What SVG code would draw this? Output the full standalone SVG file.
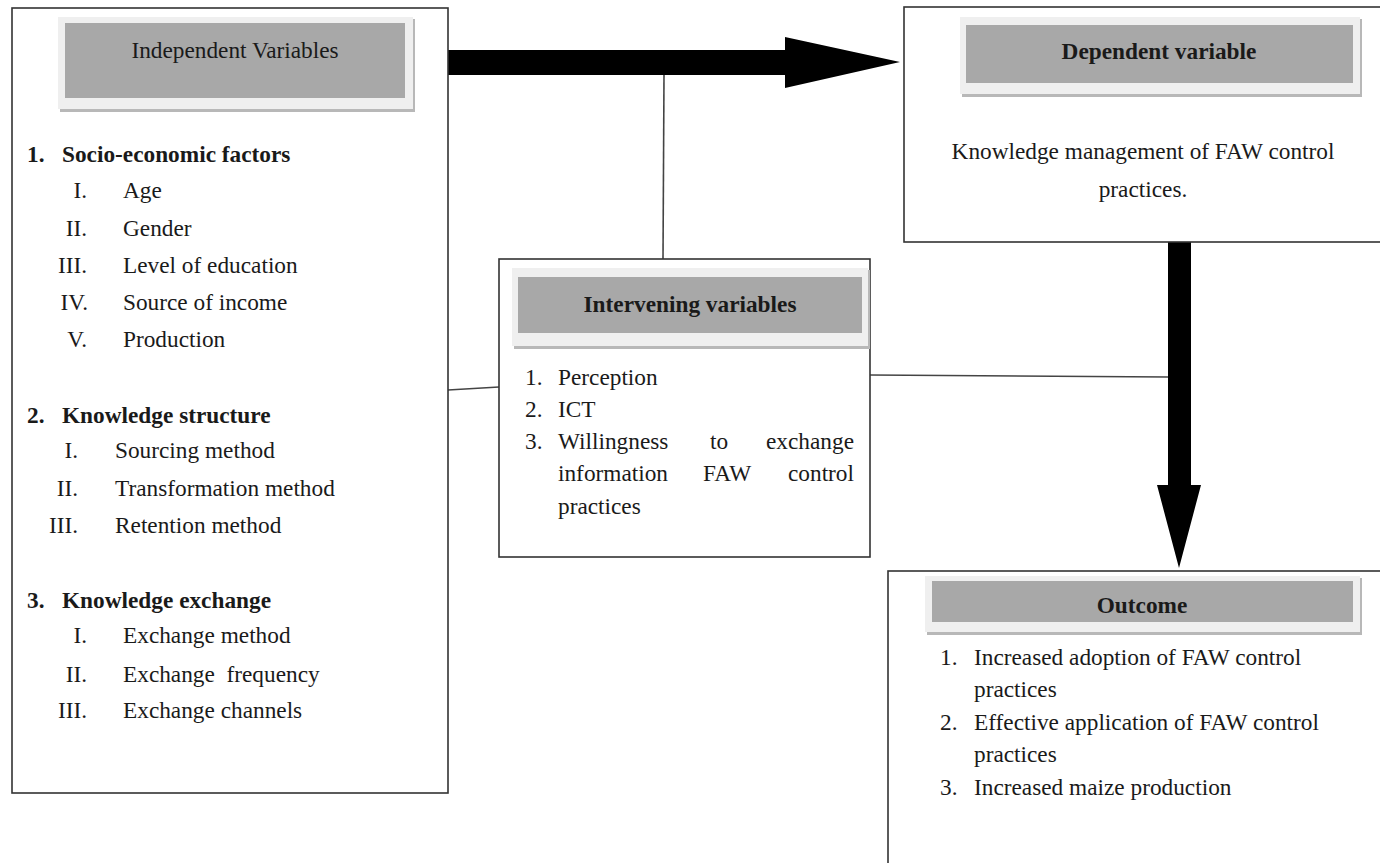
<svg xmlns="http://www.w3.org/2000/svg" width="1380" height="863" viewBox="0 0 1380 863" font-family="'Liberation Serif', Tinos, 'Times New Roman', 'DejaVu Serif', serif">
<style>
  .box { fill: #ffffff; stroke: #333333; stroke-width: 1.6; }
  .panel { fill: #efefef; stroke: none; }
  .shadow { fill: #b8b8b8; stroke: none; }
  .head { fill: #a8a8a8; stroke: none; }
  text { font-family: 'Liberation Serif', Tinos, 'Times New Roman', 'DejaVu Serif', serif; font-size: 23.3px; fill: #1a1a1a; }
  .b { font-weight: bold; }
  .c { text-anchor: middle; }
  .r { text-anchor: end; }
  .ln { stroke: #444444; stroke-width: 1.6; fill: none; }
  .arrow { fill: #000000; stroke: none; }
</style>
<rect width="1380" height="863" fill="#ffffff"/>

<g id="connectors">
  <line class="ln" x1="448" y1="390" x2="499" y2="387"/>
  <line class="ln" x1="870" y1="375" x2="1168" y2="377"/>
  <line class="ln" x1="664" y1="75" x2="663" y2="259"/>
  <polygon class="arrow" points="447,50 785,50 785,37 900,62 785,88 785,75 447,75"/>
  <polygon class="arrow" points="1168,241 1191,241 1191,485 1201,485 1179,568 1157,485 1168,485"/>
</g>

<g id="independent">
  <rect class="box" x="12" y="8" width="436" height="785"/>
  <rect class="shadow" x="60" y="19" width="355" height="93"/>
  <rect class="panel" x="58" y="17" width="355" height="92"/>
  <rect class="head" x="65" y="23" width="340" height="75"/>
  <text class="c" x="235" y="58">Independent Variables</text>
  <text class="b" x="27" y="162">1.</text>
  <text class="b" x="62" y="162">Socio-economic factors</text>
  <text class="r" x="87" y="198">I.</text><text x="123" y="198">Age</text>
  <text class="r" x="87" y="236">II.</text><text x="123" y="236">Gender</text>
  <text class="r" x="87" y="273">III.</text><text x="123" y="273">Level of education</text>
  <text class="r" x="88" y="310">IV.</text><text x="123" y="310">Source of income</text>
  <text class="r" x="87" y="347">V.</text><text x="123" y="347">Production</text>
  <text class="b" x="27" y="423">2.</text>
  <text class="b" x="62" y="423">Knowledge structure</text>
  <text class="r" x="78" y="458">I.</text><text x="115" y="458">Sourcing method</text>
  <text class="r" x="78" y="496">II.</text><text x="115" y="496">Transformation method</text>
  <text class="r" x="78" y="533">III.</text><text x="115" y="533">Retention method</text>
  <text class="b" x="27" y="608">3.</text>
  <text class="b" x="62" y="608">Knowledge exchange</text>
  <text class="r" x="87" y="643">I.</text><text x="123" y="643">Exchange method</text>
  <text class="r" x="87" y="682">II.</text><text x="123" y="682" xml:space="preserve">Exchange  frequency</text>
  <text class="r" x="87" y="718">III.</text><text x="123" y="718">Exchange channels</text>
</g>

<g id="dependent">
  <rect class="box" x="904" y="7" width="490" height="235"/>
  <rect class="shadow" x="962" y="19" width="400" height="78"/>
  <rect class="panel" x="960" y="17" width="400" height="77"/>
  <rect class="head" x="966" y="25" width="387" height="58"/>
  <text class="b c" x="1159" y="59">Dependent variable</text>
  <text class="c" x="1143" y="159">Knowledge management of FAW control</text>
  <text class="c" x="1143" y="197">practices.</text>
</g>

<g id="intervening">
  <rect class="box" x="499" y="259" width="371" height="298"/>
  <rect class="shadow" x="514" y="270" width="356" height="79"/>
  <rect class="panel" x="512" y="268" width="356" height="78"/>
  <rect class="head" x="518" y="277" width="344" height="56"/>
  <text class="b c" x="690" y="312">Intervening variables</text>
  <text x="525" y="385">1.</text><text x="558" y="385">Perception</text>
  <text x="525" y="417">2.</text><text x="558" y="417">ICT</text>
  <text x="525" y="449">3.</text><text x="558" y="449">Willingness</text>
  <text x="710" y="449">to</text>
  <text class="r" x="854" y="449">exchange</text>
  <text x="558" y="481">information</text>
  <text x="703" y="481">FAW</text>
  <text class="r" x="854" y="481">control</text>
  <text x="558" y="514">practices</text>
</g>

<g id="outcome">
  <rect class="box" x="888" y="571" width="510" height="310"/>
  <rect class="shadow" x="927" y="578" width="435" height="57"/>
  <rect class="panel" x="925" y="576" width="435" height="56"/>
  <rect class="head" x="932" y="581" width="421" height="41"/>
  <text class="b c" x="1142" y="613">Outcome</text>
  <text x="940" y="665">1.</text><text x="974" y="665">Increased adoption of FAW control</text>
  <text x="974" y="697">practices</text>
  <text x="940" y="730">2.</text><text x="974" y="730">Effective application of FAW control</text>
  <text x="974" y="762">practices</text>
  <text x="940" y="795">3.</text><text x="974" y="795">Increased maize production</text>
</g>
</svg>
